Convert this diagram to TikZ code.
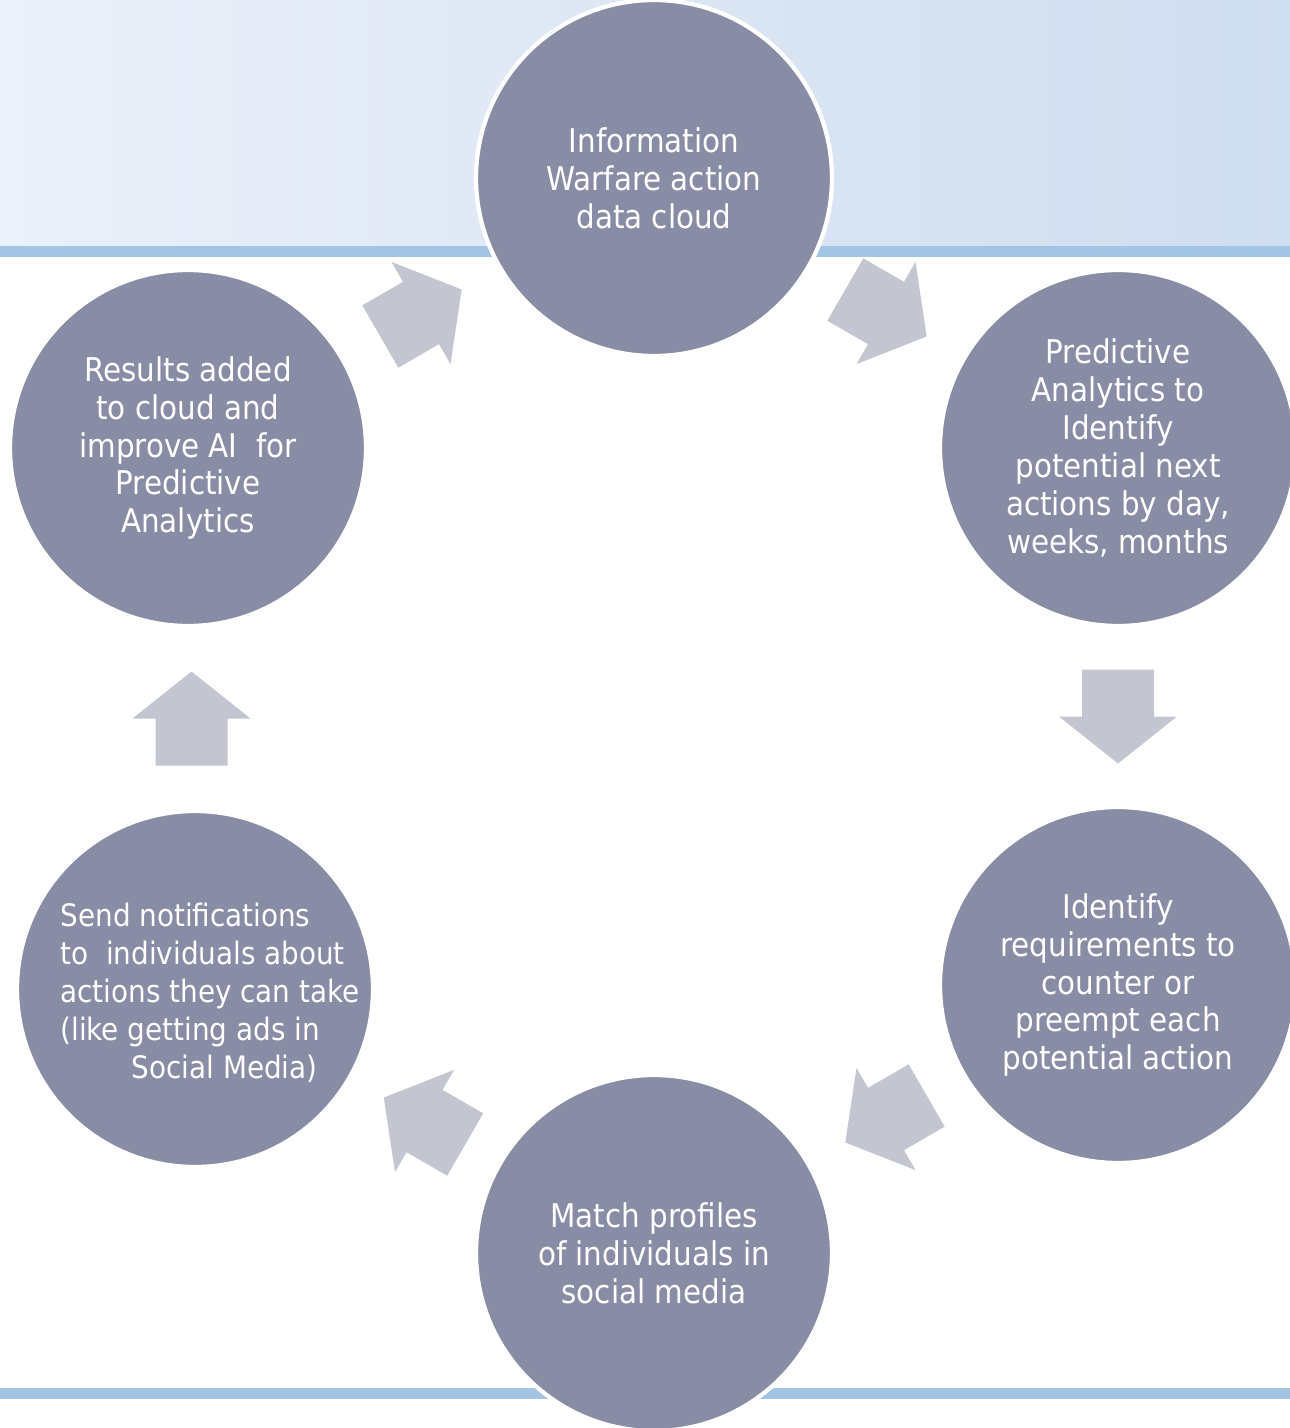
\documentclass[tikz,border=0pt]{standalone}
\usepackage{fontspec}
\setmainfont{DejaVu Sans Condensed}
\usepackage{tikz}
\usepackage{xcolor}
\usetikzlibrary{positioning, calc}

\definecolor{circfill}{RGB}{136,140,165}
\definecolor{arrowgray}{RGB}{195,198,208}
\definecolor{bandL}{RGB}{235,240,249}
\definecolor{bandR}{RGB}{206,221,239}
\definecolor{lineblue}{RGB}{164,196,228}

\begin{document}
\begin{tikzpicture}[x=0.02cm, y=-0.02cm,
        stage/.style={circle, draw=white, line width=2.4pt, fill=circfill, text=white, minimum size=7.12cm, inner sep=0pt, align=center, font=\fontsize{18.6}{21.6}\selectfont},
        blockarrow/.style={fill=arrowgray}]
    \useasboundingbox (0,0) rectangle (1290,1428);
    \shade[left color=bandL, right color=bandR] (0,0) rectangle (1290,246);
    \fill[lineblue] (0,246) rectangle (1290,257);
    \fill[lineblue] (0,1388) rectangle (1290,1399);

    \node[stage] (cloud) at (654,178) {Information\\Warfare action\\data cloud};
    \node[stage] (predict) at (1118,448) {Predictive\\Analytics to\\Identify\\potential next\\actions by day,\\weeks, months};
    \node[stage] (counter) at (1118,985) {Identify\\requirements to\\counter or\\preempt each\\potential action};
    \node[stage] (match) at (654,1253) {Match profiles\\of individuals in\\social media};
    \node[stage] (notify) at (195,989) {};
    \node[text=white, align=left, font=\fontsize{17.6}{21.6}\selectfont] (notifytext) at (210,993) {Send notifications\\to\ \ individuals about\\actions they can take\\(like getting ads in\\\hspace*{2.3em}Social Media)};
    \node[stage] (results) at (188,448) {Results added\\to cloud and\\improve AI\ \ for\\Predictive\\Analytics};

    \foreach \a/\b/\ang in {cloud/predict/-30, predict/counter/-90, counter/match/-150, match/notify/150, notify/results/90, results/cloud/30}
        \fill[blockarrow, shift={($(\a)!0.5!(\b)$)}, rotate=\ang] (-47,-36) -- (0,-36) -- (0,-59) -- (47,0) -- (0,59) -- (0,36) -- (-47,36) -- cycle;
\end{tikzpicture}
\end{document}
